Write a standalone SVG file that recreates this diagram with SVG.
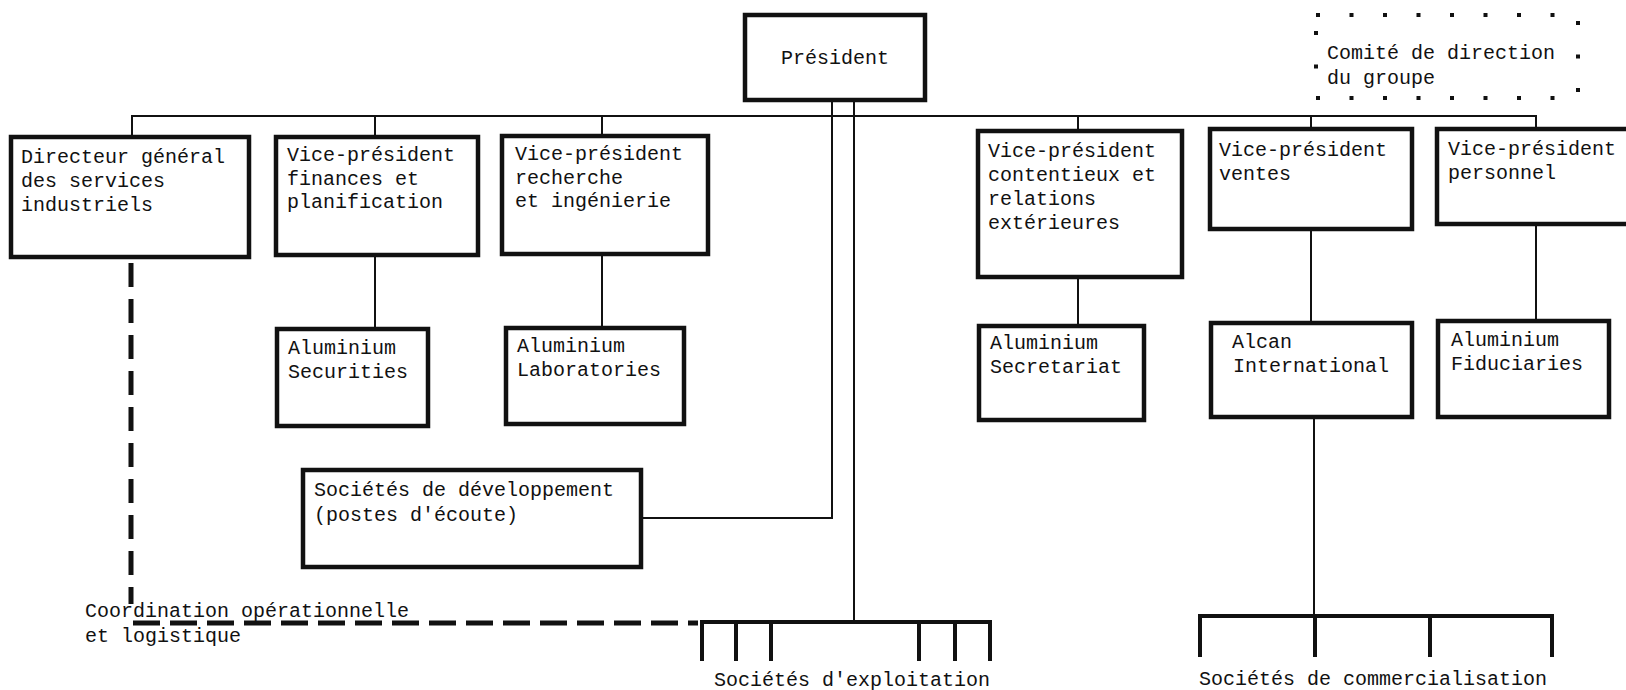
<svg xmlns="http://www.w3.org/2000/svg" width="1626" height="690" viewBox="0 0 1626 690">
<style>
.box{fill:#fff;stroke:#111;stroke-width:4.5}
.ln{fill:none;stroke:#111;stroke-width:2}
.thick{fill:none;stroke:#111;stroke-width:4}
.dash{fill:none;stroke:#111;stroke-width:5}
text{font-family:"Liberation Mono","DejaVu Sans Mono",monospace;font-size:20px;fill:#111}
</style>
<rect width="1626" height="690" fill="#fff"/>
<g id="connectors">
<polyline class="ln" points="132,137 132,116 1536,116 1536,129"/>
<line class="ln" x1="375" y1="116" x2="375" y2="137"/>
<line class="ln" x1="602" y1="116" x2="602" y2="136"/>
<line class="ln" x1="1078" y1="116" x2="1078" y2="131"/>
<line class="ln" x1="1311" y1="116" x2="1311" y2="129"/>
<line class="ln" x1="375" y1="255" x2="375" y2="329"/>
<line class="ln" x1="602" y1="254" x2="602" y2="328"/>
<line class="ln" x1="1078" y1="277" x2="1078" y2="326"/>
<line class="ln" x1="1311" y1="229" x2="1311" y2="323"/>
<line class="ln" x1="1536" y1="224" x2="1536" y2="321"/>
<polyline class="ln" points="832,100 832,518 641,518"/>
<line class="ln" x1="854" y1="100" x2="854" y2="622"/>
<line class="ln" x1="1314" y1="417" x2="1314" y2="616"/>
<line class="thick" x1="700" y1="622" x2="992" y2="622"/>
<path class="thick" d="M702,622V661M736,622V661M771,622V661M919,622V661M955,622V661M990,622V661"/>
<line class="thick" x1="1198" y1="616" x2="1554" y2="616"/>
<path class="thick" d="M1200,616V657M1315,616V657M1430,616V657M1552,616V657"/>
<line class="dash" x1="131" y1="263" x2="131" y2="604" stroke-dasharray="24 12"/>
<line class="dash" x1="133" y1="623" x2="698" y2="623" stroke-dasharray="27 10"/>
</g>
<g id="president">
<rect class="box" x="745" y="15" width="180" height="85"/>
<text x="835" y="64" text-anchor="middle">Président</text>
</g>
<g id="comite">
<rect x="1316" y="15" width="262" height="83" fill="none" stroke="#111" stroke-width="4" stroke-dasharray="4 29.5"/>
<text x="1327" y="59">Comité de direction</text>
<text x="1327" y="84">du groupe</text>
</g>
<g id="directeur">
<rect class="box" x="11" y="137" width="238" height="120"/>
<text x="21" y="163">Directeur général</text>
<text x="21" y="187">des services</text>
<text x="21" y="211">industriels</text>
</g>
<g id="vp-finances">
<rect class="box" x="276" y="137" width="202" height="118"/>
<text x="287" y="161">Vice-président</text>
<text x="287" y="185">finances et</text>
<text x="287" y="208">planification</text>
</g>
<g id="vp-recherche">
<rect class="box" x="502" y="136" width="206" height="118"/>
<text x="515" y="160">Vice-président</text>
<text x="515" y="184">recherche</text>
<text x="515" y="207">et ingénierie</text>
</g>
<g id="vp-contentieux">
<rect class="box" x="978" y="131" width="204" height="146"/>
<text x="988" y="157">Vice-président</text>
<text x="988" y="181">contentieux et</text>
<text x="988" y="205">relations</text>
<text x="988" y="229">extérieures</text>
</g>
<g id="vp-ventes">
<rect class="box" x="1210" y="129" width="202" height="100"/>
<text x="1219" y="156">Vice-président</text>
<text x="1219" y="180">ventes</text>
</g>
<g id="vp-personnel">
<rect class="box" x="1437" y="129" width="200" height="95"/>
<text x="1448" y="155">Vice-président</text>
<text x="1448" y="179">personnel</text>
</g>
<g id="al-securities">
<rect class="box" x="277" y="329" width="151" height="97"/>
<text x="288" y="354">Aluminium</text>
<text x="288" y="378">Securities</text>
</g>
<g id="al-laboratories">
<rect class="box" x="506" y="328" width="178" height="96"/>
<text x="517" y="352">Aluminium</text>
<text x="517" y="376">Laboratories</text>
</g>
<g id="al-secretariat">
<rect class="box" x="979" y="326" width="165" height="94"/>
<text x="990" y="349">Aluminium</text>
<text x="990" y="373">Secretariat</text>
</g>
<g id="alcan-international">
<rect class="box" x="1211" y="323" width="201" height="94"/>
<text x="1232" y="348">Alcan</text>
<text x="1233" y="372">International</text>
</g>
<g id="al-fiduciaries">
<rect class="box" x="1438" y="321" width="171" height="96"/>
<text x="1451" y="346">Aluminium</text>
<text x="1451" y="370">Fiduciaries</text>
</g>
<g id="societes-developpement">
<rect class="box" x="303" y="470" width="338" height="97"/>
<text x="314" y="496">Sociétés de développement</text>
<text x="314" y="521">(postes d'écoute)</text>
</g>
<g id="labels">
<text x="85" y="617">Coordination opérationnelle</text>
<text x="85" y="642">et logistique</text>
<text x="714" y="686">Sociétés d'exploitation</text>
<text x="1199" y="685">Sociétés de commercialisation</text>
</g>
</svg>
